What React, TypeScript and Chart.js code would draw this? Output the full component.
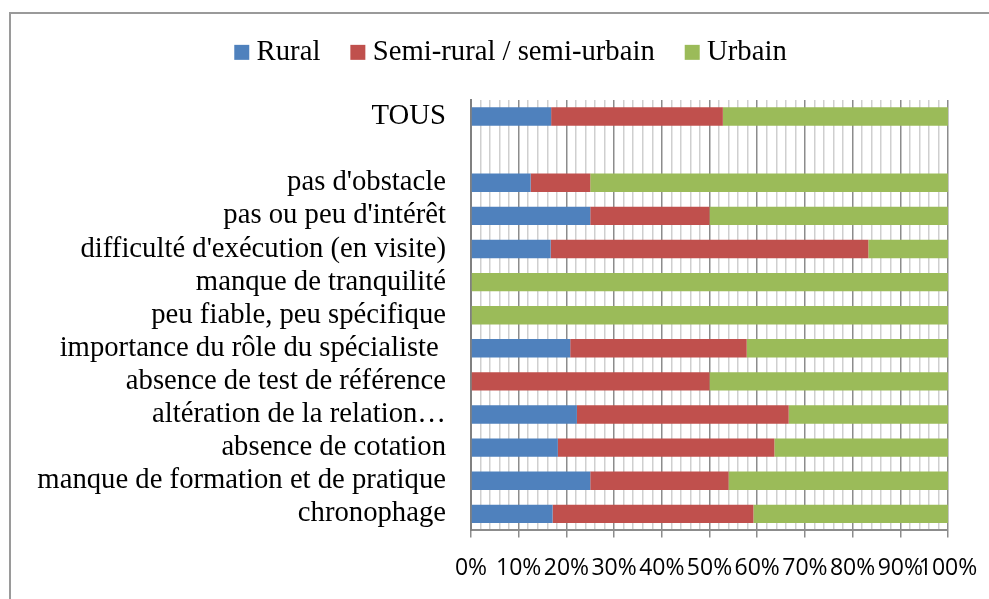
import React, { useEffect, useRef } from "react";
import { Chart, registerables } from "chart.js";

Chart.register(...registerables);

const categories = [
  "TOUS",
  "",
  "pas d'obstacle",
  "pas ou peu d'intérêt",
  "difficulté d'exécution (en visite)",
  "manque de tranquilité",
  "peu fiable, peu spécifique",
  "importance du rôle du spécialiste ",
  "absence de test de référence",
  "altération de la relation…",
  "absence de cotation",
  "manque de formation et de pratique",
  "chronophage",
];

const rural = [16.8, null, 12.5, 25, 16.7, 0, 0, 20.8, 0, 22.2, 18.2, 25, 17.1];
const semi = [36, null, 12.5, 25, 66.6, 0, 0, 37, 50, 44.4, 45.4, 29, 42.1];
const urbain = [47.2, null, 75, 50, 16.7, 100, 100, 42.2, 50, 33.4, 36.4, 46, 40.8];

const seriesNames = ["Rural", "Semi-rural / semi-urbain", "Urbain"];
const seriesColors = ["#4F81BD", "#C0504D", "#9BBB59"];

const xTicks = [0, 10, 20, 30, 40, 50, 60, 70, 80, 90, 100];

const PAD_LEFT = 20;
const PAD_RIGHT = 41;
const PAD_TOP = 1;
const PLOT_LEFT = 471;
const PLOT_TOP = 100;
const LEGEND_CENTER = 514;

const legendPlugin = {
  id: "legendAdjust",
  beforeInit(chart: any) {
    const legend = chart.legend;
    if (!legend) return;
    const origFit = legend.fit;
    legend.fit = function () {
      origFit.call(this);
      this.height = PLOT_TOP - PAD_TOP;
    };
  },
  afterLayout(chart: any) {
    const legend = chart.legend;
    if (!legend) return;
    const shift = LEGEND_CENTER - (legend.left + legend.right) / 2;
    legend.left += shift;
    legend.right += shift;
  },
};

export default function App() {
  const canvasRef = useRef<HTMLCanvasElement | null>(null);

  useEffect(() => {
    if (!canvasRef.current) return;
    const serif = "'Liberation Serif', 'Times New Roman', 'DejaVu Serif', serif";
    const sans = "'Liberation Sans Narrow', 'Open Sans', 'Liberation Sans', sans-serif";
    const chart = new Chart(canvasRef.current, {
      type: "bar",
      data: {
        labels: categories,
        datasets: [rural, semi, urbain].map((d, i) => ({
          label: seriesNames[i],
          data: d,
          backgroundColor: seriesColors[i],
          borderWidth: 0,
          barPercentage: 0.555,
          categoryPercentage: 1,
        })),
      },
      plugins: [legendPlugin],
      options: {
        indexAxis: "y",
        animation: false,
        responsive: false,
        maintainAspectRatio: false,
        layout: {
          padding: { left: PAD_LEFT, right: PAD_RIGHT, top: PAD_TOP, bottom: 0 },
        },
        plugins: {
          legend: {
            position: "top",
            align: "center",
            labels: {
              usePointStyle: true,
              pointStyle: "rect",
              boxWidth: 1,
              boxHeight: 15,
              padding: 37,
              color: "#000000",
              font: { family: serif, size: 28.7 },
            },
          },
          tooltip: { enabled: false },
        },
        scales: {
          x: {
            stacked: true,
            min: 0,
            max: 100,
            afterBuildTicks(scale: any) {
              const t: any[] = [];
              for (let v = 0; v <= 100; v += 2) t.push({ value: v });
              scale.ticks = t;
            },
            afterFit(scale: any) {
              scale.paddingLeft = 0;
              scale.paddingRight = 0;
            },
            ticks: {
              autoSkip: false,
              maxRotation: 0,
              minRotation: 0,
              padding: 17,
              color: "#000000",
              font: { family: sans, size: 23 },
              callback: (v: any) => (xTicks.includes(Number(v)) ? v + "%" : ""),
            },
            grid: {
              color: (ctx: any) =>
                ctx.tick && ctx.tick.value % 10 === 0 ? "#8c8c8c" : "#cfcfcf",
              tickColor: (ctx: any) =>
                ctx.tick && ctx.tick.value % 10 === 0 ? "#8c8c8c" : "rgba(0,0,0,0)",
              lineWidth: 1.5,
              tickLength: 7,
              drawOnChartArea: true,
            },
            border: { display: true, color: "#8c8c8c", width: 2 },
          },
          y: {
            stacked: true,
            afterFit(scale: any) {
              scale.width = PLOT_LEFT - PAD_LEFT;
            },
            ticks: {
              autoSkip: false,
              padding: 25,
              color: "#000000",
              font: { family: serif, size: 28.7 },
            },
            grid: { display: true, drawOnChartArea: false, drawTicks: false },
            border: { display: true, color: "#808080", width: 2 },
          },
        },
      },
    });
    return () => chart.destroy();
  }, []);

  return (
    <div
      style={{
        position: "fixed",
        left: 0,
        top: 0,
        width: 989,
        height: 599,
        overflow: "hidden",
        background: "#ffffff",
      }}
    >
      <div
        style={{
          position: "absolute",
          left: 9,
          top: 12,
          width: 1100,
          height: 700,
          border: "2px solid #9a9a9a",
        }}
      />
      <canvas
        ref={canvasRef}
        width={989}
        height={599}
        style={{ position: "absolute", left: 0, top: 0, width: 989, height: 599 }}
      />
    </div>
  );
}
